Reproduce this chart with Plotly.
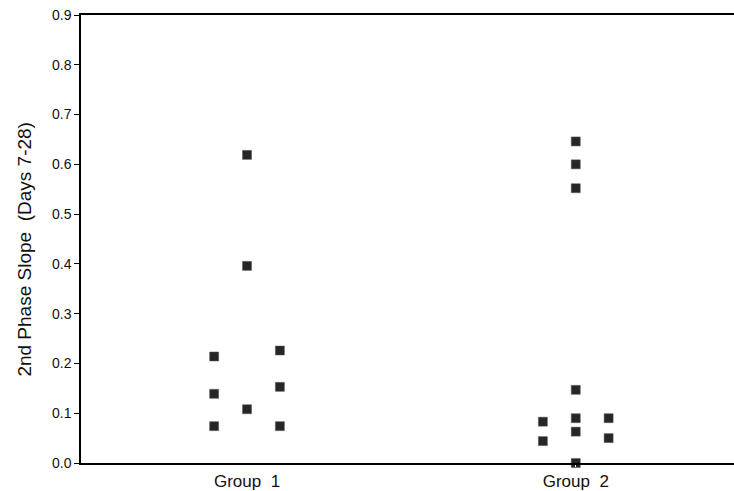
import plotly.graph_objects as go

categories = ["Group  1", "Group  2"]
# column within each group: -1 left, 0 centre, 1 right
g1_cols = [-1, -1, -1, 0, 0, 0, 1, 1, 1]
g1_vals = [0.214, 0.139, 0.074, 0.619, 0.396, 0.108, 0.226, 0.153, 0.074]
g2_cols = [-1, -1, 0, 0, 0, 0, 0, 0, 0, 1, 1]
g2_vals = [0.083, 0.044, 0.646, 0.600, 0.552, 0.147, 0.090, 0.063, 0.0, 0.090, 0.050]
y_ticks = [0.0, 0.1, 0.2, 0.3, 0.4, 0.5, 0.6, 0.7, 0.8, 0.9]
y_title = "2nd Phase Slope  (Days 7-28)"

spread = 0.1
xs, ys = [], []
for gi, (cols, vals) in enumerate([(g1_cols, g1_vals), (g2_cols, g2_vals)], start=1):
    for c, v in zip(cols, vals):
        xs.append(gi + c * spread)
        ys.append(v)

fig = go.Figure(go.Scatter(
    x=xs, y=ys, mode="markers",
    marker=dict(symbol="square", size=9, color="#262626",
                line=dict(color="#555555", width=0.5)),
    cliponaxis=False,
    showlegend=False,
))

font = "Liberation Sans, Arial, sans-serif"
fig.update_layout(
    width=738, height=491,
    margin=dict(l=81, r=0, t=15, b=28, autoexpand=False),
    paper_bgcolor="white", plot_bgcolor="white",
    font=dict(family=font, size=13, color="#111"),
    xaxis=dict(
        range=[0.495, 2.4935], tickvals=[1, 2], ticktext=categories,
        showgrid=False, zeroline=False, showline=True, linecolor="black",
        linewidth=1.5, mirror=True, ticks="outside", ticklen=2, tickcolor="white",
        tickfont=dict(size=17), automargin=False,
    ),
    yaxis=dict(
        range=[0, 0.9], tickvals=y_ticks, ticktext=[f"{t:.1f}" for t in y_ticks],
        showgrid=False, zeroline=False, showline=True, linecolor="black",
        linewidth=1.5, mirror=True, ticks="outside", ticklen=5, tickcolor="black",
        tickfont=dict(size=14), automargin=False,
    ),
    annotations=[dict(
        text=y_title, textangle=-90, showarrow=False,
        xref="paper", yref="paper", x=-0.0858, y=0.4777,
        xanchor="center", yanchor="middle", font=dict(size=19),
    )],
)

fig.write_html("out.html",
               config={"displayModeBar": False},
               post_script="document.body.style.margin='0';document.body.style.overflow='hidden';")
